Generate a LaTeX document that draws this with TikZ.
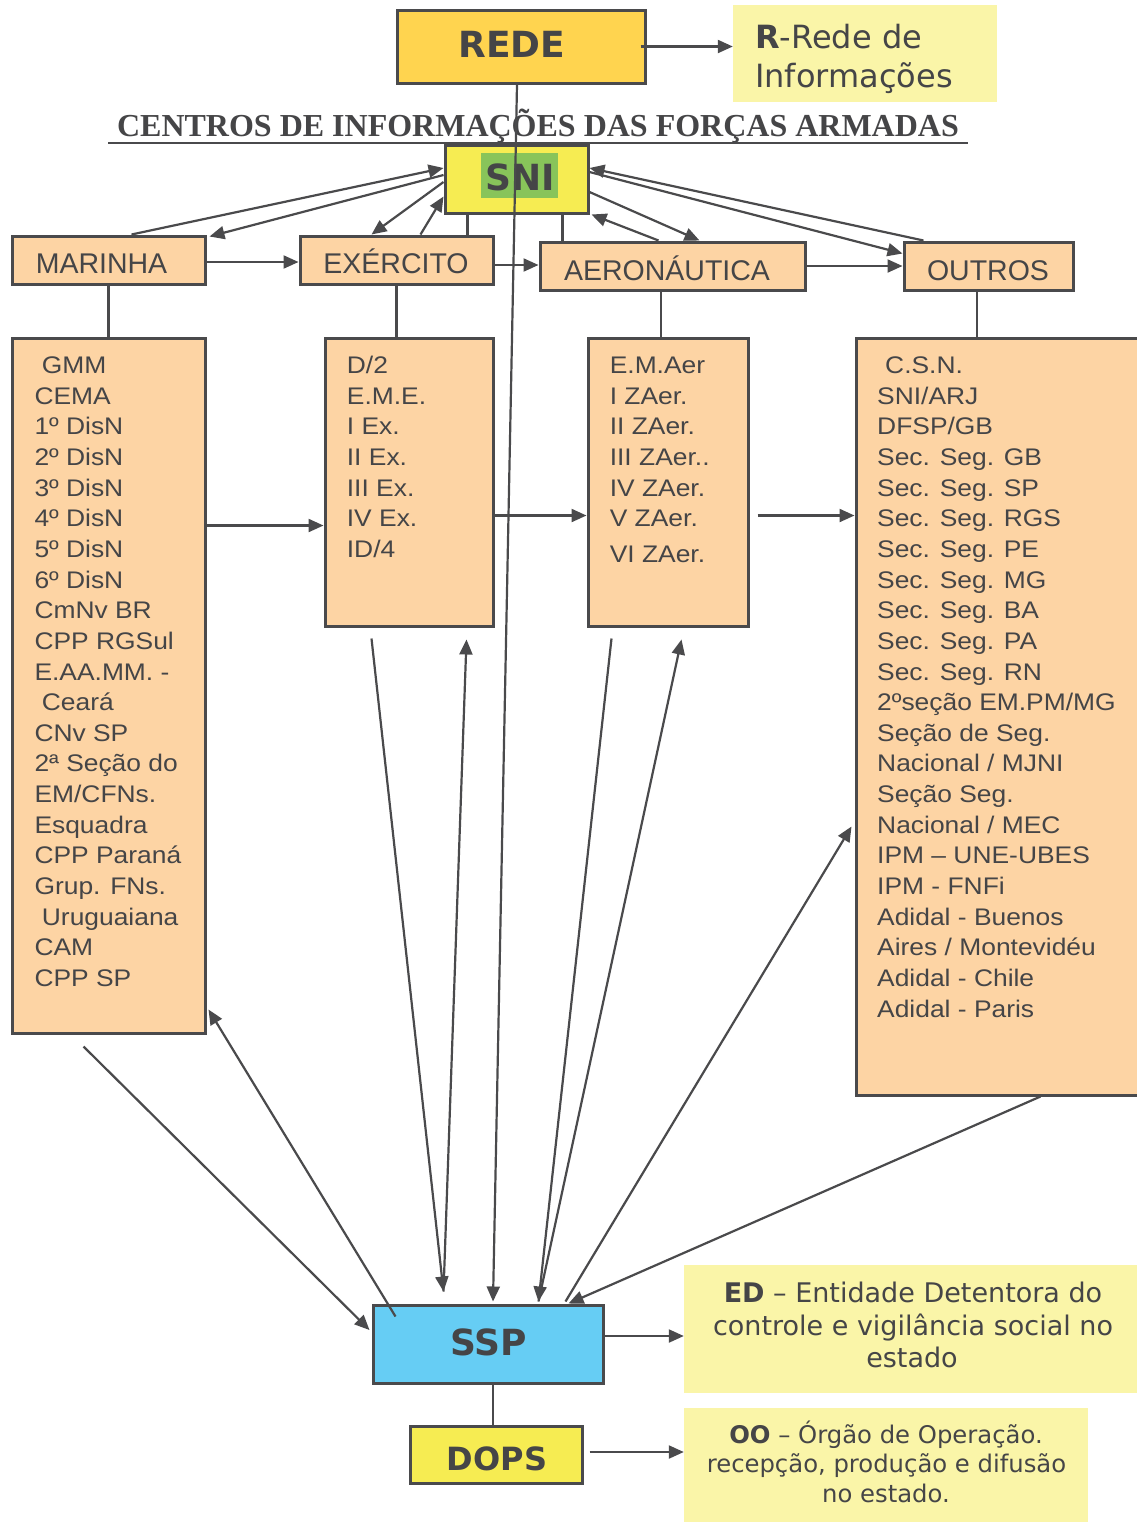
\documentclass[tikz,border=0pt]{standalone}
\usepackage{fontspec}
\setmainfont{Liberation Sans}
\newfontfamily\lst{Liberation Sans}[FakeStretch=1.1]
\newfontfamily\dvs{DejaVu Sans}
\newfontfamily\tms{Liberation Serif}
\usetikzlibrary{arrows.meta,calc}
\definecolor{lc}{HTML}{4A4A4C}
\definecolor{txc}{HTML}{454547}
\definecolor{pch}{HTML}{FDD4A4}
\definecolor{gold}{HTML}{FFD44F}
\definecolor{yel}{HTML}{F6EC52}
\definecolor{grn}{HTML}{88C45A}
\definecolor{sky}{HTML}{66CDF4}
\definecolor{ly}{HTML}{FAF5A8}
\begin{document}
\begin{tikzpicture}[x=1pt,y=-1pt,
  box/.style={draw=lc, line width=3pt, inner sep=0pt},
  peach/.style={box, fill=pch},
  note/.style={fill=ly, inner sep=0pt},
  con/.style={draw=lc, line width=2.2pt, -{Triangle[length=15pt,width=13pt]}},
  pl/.style={draw=lc, line width=2.2pt},
  tx/.style={text=txc, inner sep=0pt},
  lt/.style={tx, anchor=base west, font=\lst\fontsize{24}{24}\selectfont},
  hd/.style={tx, anchor=base, font=\fontsize{28.5}{28.5}\selectfont},
  bd/.style={tx, anchor=base, font=\dvs\bfseries\fontsize{36}{36}\selectfont}]
\useasboundingbox (0,0) rectangle (1137,1524);
\fill[white] (0,0) rectangle (1137,1524);

% top
\node[box, fill=gold, minimum width=248, minimum height=73] (rede) at (521,46.5) {};
\node[bd] (redeT) at (512,57.3) {REDE};
\node[note, minimum width=264, minimum height=97] (rtxt) at (865,53.5) {};
\node[tx, anchor=base west, font=\dvs\fontsize{32}{32}\selectfont] (rT1) at (755,48.3) {\textbf{R}-Rede de};
\node[tx, anchor=base west, font=\dvs\fontsize{32}{32}\selectfont] (rT2) at (755,87) {Informações};

\node[tx, anchor=base, font=\tms\bfseries\fontsize{32}{32}\selectfont] (title) at (538,136.7) {CENTROS DE INFORMAÇÕES DAS FORÇAS ARMADAS};
\draw[lc, line width=2pt] (108,143) -- (968,143);

\node[box, fill=yel, minimum width=143, minimum height=68] (sni) at (516.5,179) {};
\node[fill=grn, inner sep=0pt, minimum width=77, minimum height=45] (snig) at (519.5,175.5) {};
\node[bd] (sniT) at (520,190) {SNI};

% second row
\node[peach, minimum width=193, minimum height=48] (mar) at (108.5,260) {};
\node[hd] (marT) at (101.5,273) {MARINHA};
\node[peach, minimum width=193, minimum height=48] (exe) at (396.5,260) {};
\node[hd] (exeT) at (396,273) {EXÉRCITO};
\node[peach, minimum width=265, minimum height=48] (aer) at (672.5,266) {};
\node[hd] (aerT) at (667,280) {AERONÁUTICA};
\node[peach, minimum width=169, minimum height=48] (out) at (988.5,266) {};
\node[hd] (outT) at (988,280) {OUTROS};

% lists
\node[peach, minimum width=193, minimum height=695] (lmar) at (108.5,685.5) {};
\node[peach, minimum width=168, minimum height=288] (lexe) at (409,482) {};
\node[peach, minimum width=160, minimum height=288] (laer) at (668,482) {};
\node[peach, minimum width=294, minimum height=757] (lout) at (1003,716.5) {};

\foreach \t [count=\i] in {{\hspace*{7.4pt}GMM},CEMA,1º DisN,2º DisN,3º DisN,4º DisN,5º DisN,6º DisN,CmNv BR,CPP RGSul,E.AA.MM. -,{\hspace*{7.4pt}Ceará},CNv SP,2ª Seção do,EM/CFNs.,Esquadra,CPP Paraná,Grup. FNs.,{\hspace*{7.4pt}Uruguaiana},CAM,CPP SP}
  \node[lt] (lm\i) at (34.3,{373.5+30.65*(\i-1)}) {\t};
\foreach \t [count=\i] in {D/2,E.M.E.,I Ex.,II Ex.,III Ex.,IV Ex.,ID/4}
  \node[lt] (le\i) at (346.7,{373.5+30.65*(\i-1)}) {\t};
\foreach \t [count=\i] in {E.M.Aer,I ZAer.,II ZAer.,III ZAer..,IV ZAer.,V ZAer.}
  \node[lt] (la\i) at (609.6,{373.5+30.65*(\i-1)}) {\t};
\node[lt] (la7) at (609.6,562) {VI ZAer.};
\foreach \t [count=\i] in {{\hspace*{8pt}C.S.N.},SNI/ARJ,DFSP/GB,Sec. Seg. GB,Sec. Seg. SP,Sec. Seg. RGS,Sec. Seg. PE,Sec. Seg. MG,Sec. Seg. BA,Sec. Seg. PA,Sec. Seg. RN,2ºseção EM.PM/MG,Seção de Seg.,Nacional / MJNI,Seção Seg.,Nacional / MEC,IPM – UNE-UBES,IPM - FNFi,Adidal - Buenos,Aires / Montevidéu,Adidal - Chile,Adidal - Paris}
  \node[lt] (lo\i) at (877,{373.5+30.65*(\i-1)}) {\t};

% bottom
\node[box, fill=sky, minimum width=230, minimum height=78] (ssp) at (488,1344) {};
\node[bd] (sspT) at (488.5,1355) {SSP};
\node[box, fill=yel, minimum width=172, minimum height=57] (dops) at (496,1454.5) {};
\node[bd, font=\dvs\bfseries\fontsize{32}{32}\selectfont] (dopsT) at (497,1470) {DOPS};
\node[note, minimum width=456, minimum height=128] (ed) at (912,1329) {};
\node[tx, anchor=base, font=\dvs\fontsize{27}{27}\selectfont] (edT1) at (913,1302) {\textbf{ED} – Entidade Detentora do};
\node[tx, anchor=base, font=\dvs\fontsize{27}{27}\selectfont] (edT2) at (913,1335) {controle e vigilância social no};
\node[tx, anchor=base, font=\dvs\fontsize{27}{27}\selectfont] (edT3) at (912,1367) {estado};
\node[note, minimum width=404, minimum height=114] (oo) at (886,1465) {};
\node[tx, anchor=base, font=\dvs\fontsize{24.3}{24.3}\selectfont] (ooT1) at (886,1443) {\textbf{OO} – Órgão de Operação.};
\node[tx, anchor=base, font=\dvs\fontsize{24.3}{24.3}\selectfont] (ooT2) at (886.5,1472) {recepção, produção e difusão};
\node[tx, anchor=base, font=\dvs\fontsize{24.3}{24.3}\selectfont] (ooT3) at (886,1502) {no estado.};

% connectors
\coordinate (aerdn) at ($(aer.south)+(-11.5,0)$);
\coordinate (outdn) at ($(out.south)+(-11.5,0)$);
\draw[con] ($(rede.east)+(-6,0)$) -- (rtxt.west |- rede.east);
\draw[con] ($(rede.south)+(-4,0)$) -- ($(ssp.north)+(5,-2)$);
\draw[con] ($(mar.north west)+(121,0)$) -- ($(sni.west)+(0,-11)$);
\draw[con] ($(sni.west)+(0,-4)$) -- ($(mar.north east)+(3,2)$);
\draw[con] ($(sni.west)+(0,3)$) -- ($(exe.north west)+(73,0)$);
\draw[con] ($(exe.north west)+(122,0)$) -- ($(sni.south west)+(0,-18)$);
\draw[pl] ($(sni.south west)+(24,0)$) -- ($(exe.north west)+(169,0)$);
\draw[pl] ($(sni.south west)+(119,0)$) -- ($(aer.north west)+(24,0)$);
\draw[con] ($(sni.east)+(0,13)$) -- ($(aer.north west)+(161,0)$);
\draw[con] ($(aer.north west)+(120,0)$) -- ($(sni.south east)+(2,0)$);
\draw[con] ($(out.north west)+(21,0)$) -- ($(sni.east)+(0,-11)$);
\draw[con] ($(sni.east)+(0,-7)$) -- ($(out.north west)+(0,13)$);
\draw[con] ($(mar.east)+(0,2)$) -- ($(exe.west)+(0,2)$);
\draw[con] ($(exe.east)+(0,5)$) -- ($(aer.west)+(0,-1)$);
\draw[con] (aer.east) -- (out.west);
\draw[pl] (mar.south) -- (lmar.north);
\draw[pl] (exe.south) -- (exe.south |- lexe.north);
\draw[pl] (aerdn) -- (aerdn |- laer.north);
\draw[pl] (outdn) -- (outdn |- lout.north);
\draw[con] ($(lmar.north east)+(0,189)$) -- ($(lexe.north west)+(0,189)$);
\draw[con] ($(lexe.north east)+(0,179)$) -- ($(laer.north west)+(0,179)$);
\draw[con] ($(laer.north east)+(8,179)$) -- ($(lout.north west)+(0,179)$);
\draw[con] ($(lexe.south west)+(48,11)$) -- ($(ssp.north west)+(72,-12)$);
\draw[con] ($(ssp.north west)+(72,-12)$) -- ($(lexe.south west)+(143,12)$);
\draw[con] ($(laer.south west)+(25,11)$) -- ($(ssp.north west)+(167,-2)$);
\draw[con] ($(ssp.north west)+(167,-2)$) -- ($(laer.south west)+(95,12)$);
\draw[con] ($(ssp.north west)+(194,-2)$) -- ($(lout.north west)+(-3,490)$);
\draw[con] ($(lout.south west)+(186,0)$) -- ($(ssp.north west)+(197,0)$);
\draw[con] ($(lmar.south west)+(73,12)$) -- ($(ssp.west)+(-2,-14)$);
\draw[con] ($(ssp.north west)+(24,13)$) -- ($(lmar.south east)+(2,-25)$);
\draw[con] ($(ssp.east)+(0,-8)$) -- ($(ed.west)+(0,7)$);
\draw[pl] ($(ssp.south)+(5,0)$) -- ($(dops.north)+(-3,0)$);
\draw[con] ($(dops.east)+(6,-2.5)$) -- ($(oo.west)+(0,-13)$);
\end{tikzpicture}
\end{document}
